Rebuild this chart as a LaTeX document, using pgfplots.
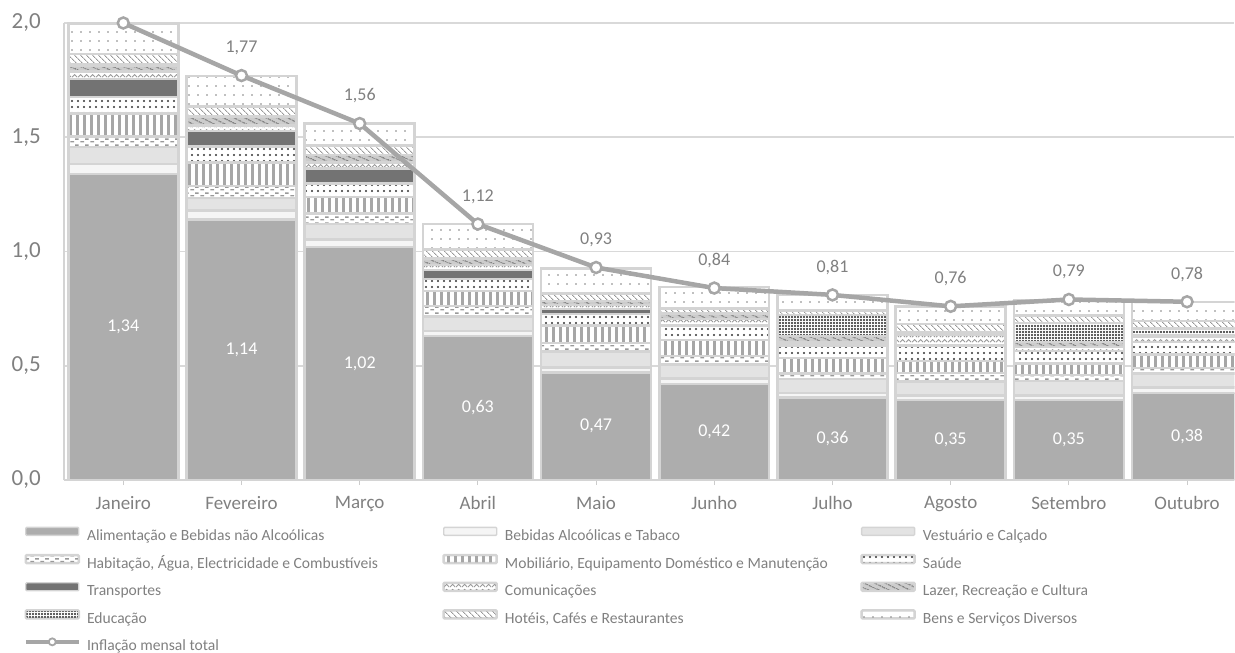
\documentclass[border=0pt]{standalone}
\usepackage{pgfplots}
\pgfplotsset{compat=1.18}
\usepackage{pgfplotstable}
\usetikzlibrary{patterns,patterns.meta}
\usepackage{fontspec}
\setmainfont{Carlito}

\tikzdeclarepattern{
  name=hdash,
  bounding box={(0pt,0pt) and (10pt,6pt)},
  tile size={(10pt,6pt)},
  code={
    \draw[line width=1.6pt] (0.5pt,1.5pt) -- (4.5pt,1.5pt);
    \draw[line width=1.6pt] (5.5pt,4.5pt) -- (9.5pt,4.5pt);
  }
}
\tikzdeclarepattern{
  name=zigzag,
  bounding box={(0pt,0pt) and (6pt,5pt)},
  tile size={(6pt,5pt)},
  code={
    \draw[line width=1pt] (0pt,1pt) -- (3pt,4pt) -- (6pt,1pt);
  }
}

\pgfplotstableread{
x alim beb vest hab mob sau tra com laz edu hot ben tot
0 1.34 0.044 0.073 0.047 0.100 0.072 0.078 0.033 0.026 0.005 0.046 0.133 2.00
1 1.14 0.040 0.055 0.052 0.103 0.070 0.068 0.024 0.039 0.000 0.044 0.133 1.77
2 1.02 0.033 0.068 0.046 0.072 0.059 0.066 0.026 0.033 0.000 0.040 0.098 1.56
3 0.63 0.022 0.063 0.046 0.066 0.053 0.038 0.023 0.029 0.000 0.039 0.112 1.12
4 0.47 0.022 0.070 0.037 0.077 0.050 0.022 0.018 0.018 0.000 0.033 0.109 0.93
5 0.42 0.024 0.061 0.037 0.070 0.061 0.005 0.026 0.024 0.000 0.022 0.094 0.84
6 0.36 0.020 0.063 0.024 0.066 0.055 0.005 0.012 0.025 0.092 0.020 0.068 0.81
7 0.35 0.020 0.061 0.037 0.053 0.068 0.000 0.048 0.010 0.000 0.035 0.077 0.76
8 0.35 0.020 0.063 0.026 0.050 0.055 0.000 0.019 0.020 0.085 0.031 0.068 0.79
9 0.38 0.025 0.060 0.025 0.060 0.055 0.000 0.020 0.010 0.028 0.033 0.083 0.78
}\data

\pgfplotsset{
  seg/.style={draw=black!17, line width=2.5pt,
    legend image code/.code={\draw[##1, line width=1.4pt, rounded corners=1pt] (0pt,1pt) rectangle (53pt,9pt); \path (60pt,0pt);}},
}

\begin{document}
\begin{tikzpicture}
\useasboundingbox (-64.2pt,-173pt) rectangle (1170.8pt,480pt);
\begin{axis}[
  at={(0pt,0pt)}, anchor=south west,
  scale only axis, width=1170.2pt, height=457pt,
  ybar stacked, bar width=0.93,
  xmin=-0.5, xmax=9.4, ymin=0, ymax=2,
  xtick={0,...,9},
  xticklabels={Janeiro,Fevereiro,Março,Abril,Maio,Junho,Julho,Agosto,Setembro,Outubro},
  ytick={0,0.5,1,1.5,2},
  axis x line*=bottom, axis y line*=left,
  axis line style={draw=black!17, line width=2pt, -},
  ymajorgrids, grid style={draw=black!15, line width=1.5pt},
  tick align=outside, major tick length=5pt,
  xtick style={draw=black!20, line width=1pt},
  ytick style={draw=none},
  /pgf/number format/use comma, /pgf/number format/fixed,
  /pgf/number format/fixed zerofill, /pgf/number format/precision=1,
  /pgf/number format/assume math mode=true,
  xticklabel style={font=\fontsize{19}{19}\selectfont, text=black!50, yshift=-8pt},
  yticklabel style={font=\fontsize{23}{23}\selectfont, text=black!50, xshift=-15pt},
  legend columns=3,
  legend cell align=left,
  legend style={at={(-0.03435,-0.10208)}, anchor=north west, draw=none, fill=none,
    inner sep=0pt, outer sep=0pt, column sep=0pt, row sep=10pt,
    font=\fontsize{15.6}{15.6}\selectfont, text=black!50,
    nodes={inner sep=0pt, text height=12pt, text depth=4pt}},
]
\addplot[seg, fill=black!32] table[x=x,y=alim]{\data};
\addlegendentry{\makebox[356pt][l]{Alimentação e Bebidas não Alcoólicas}}
\addplot[seg, fill=black!4] table[x=x,y=beb]{\data};
\addlegendentry{\makebox[356pt][l]{Bebidas Alcoólicas e Tabaco}}
\addplot[seg, fill=black!11] table[x=x,y=vest]{\data};
\addlegendentry{Vestuário e Calçado}
\addplot[seg, preaction={fill=white}, pattern=hdash, pattern color=black!40] table[x=x,y=hab]{\data};
\addlegendentry{\makebox[356pt][l]{Habitação, Água, Electricidade e Combustíveis}}
\addplot[seg, preaction={fill=white}, pattern={Lines[angle=90,distance=7pt,line width=3pt]}, pattern color=black!35] table[x=x,y=mob]{\data};
\addlegendentry{\makebox[356pt][l]{Mobiliário, Equipamento Doméstico e Manutenção}}
\addplot[seg, preaction={fill=white}, pattern={Dots[distance=6pt,radius=1.1pt]}, pattern color=black!80] table[x=x,y=sau]{\data};
\addlegendentry{Saúde}
\addplot[seg, fill=black!55] table[x=x,y=tra]{\data};
\addlegendentry{\makebox[356pt][l]{Transportes}}
\addplot[seg, preaction={fill=white}, pattern=zigzag, pattern color=black!40] table[x=x,y=com]{\data};
\addlegendentry{\makebox[356pt][l]{Comunicações}}
\addplot[seg, preaction={fill=black!20}, pattern={Lines[angle=-25,distance=4pt,line width=1pt]}, pattern color=black!65] table[x=x,y=laz]{\data};
\addlegendentry{Lazer, Recreação e Cultura}
\addplot[seg, preaction={fill=white}, pattern={Dots[distance=3pt,radius=1.1pt]}, pattern color=black!85] table[x=x,y=edu]{\data};
\addlegendentry{\makebox[356pt][l]{Educação}}
\addplot[seg, preaction={fill=white}, pattern={Lines[angle=-45,distance=4pt,line width=1pt]}, pattern color=black!40] table[x=x,y=hot]{\data};
\addlegendentry{\makebox[356pt][l]{Hotéis, Cafés e Restaurantes}}
\addplot[seg, preaction={fill=white}, pattern={Dots[distance=9pt,radius=0.8pt]}, pattern color=black!50] table[x=x,y=ben]{\data};
\addlegendentry{Bens e Serviços Diversos}
\addlegendimage{legend image code/.code={\draw[black!35, line width=3.5pt] (0pt,5pt) -- (53pt,5pt); \draw[black!35, fill=white, line width=1.8pt] (26.5pt,5pt) circle (3.5pt); \path (60pt,0pt);}}
\addlegendentry{\makebox[356pt][l]{Inflação mensal total}}
\end{axis}
\begin{axis}[
  at={(0pt,0pt)}, anchor=south west,
  scale only axis, width=1170.2pt, height=457pt,
  xmin=-0.5, xmax=9.4, ymin=0, ymax=2,
  axis lines=none, clip=false,
]
\addplot[draw=none, mark=none, point meta=\thisrow{alim},
  nodes near coords={\pgfmathprintnumber[use comma, fixed, fixed zerofill, precision=2, assume math mode=true]{\pgfplotspointmeta}},
  every node near coord/.style={anchor=center, text=white, font=\fontsize{18}{18}\selectfont}]
  table[x=x, y expr=\thisrow{alim}/2]{\data};
\addplot[black!35, line width=4.5pt, mark=*, mark size=5.5pt, mark options={fill=white, draw=black!35, line width=2.5pt}]
  table[x=x,y=tot]{\data};
\addplot[draw=none, mark=none, point meta=\thisrow{tot}, restrict x to domain=1:9,
  nodes near coords={\pgfmathprintnumber[use comma, fixed, fixed zerofill, precision=2, assume math mode=true]{\pgfplotspointmeta}},
  every node near coord/.style={anchor=center, yshift=27.5pt, text=black!50, font=\fontsize{18}{18}\selectfont}]
  table[x=x,y=tot]{\data};
\end{axis}
\end{tikzpicture}
\end{document}
